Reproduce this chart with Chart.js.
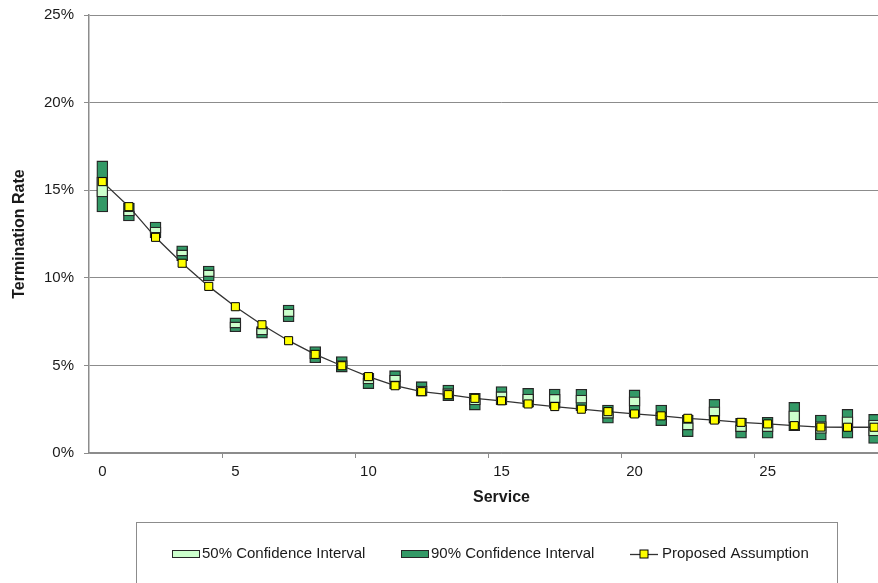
<!DOCTYPE html>
<html>
<head>
<meta charset="utf-8">
<script src="https://cdn.jsdelivr.net/npm/chart.js@4.4.1/dist/chart.umd.min.js"></script>
<style>
  html, body { margin: 0; padding: 0; background: #fff; overflow: hidden; }
  #wrap { width: 878px; height: 583px; overflow: hidden; }
</style>
</head>
<body>
<div id="wrap"><canvas id="chart" width="927" height="583"></canvas></div>
<script>
// service years; the axis runs on to 30, which is cut off on the right
const services = ["0","1","2","3","4","5","6","7","8","9","10","11","12","13","14",
  "15","16","17","18","19","20","21","22","23","24","25","26","27","28","29","30"];

// 90% confidence interval (percent)
const ci90Low  = [13.76, 13.24, 12.27, 10.98, 9.82, 6.92, 6.55, 7.49, 5.15, 4.62,
  3.67, 3.67, 3.25, 2.99, 2.45, 2.74, 2.61, 2.55, 2.41, 1.70,
  2.04, 1.56, 0.93, 1.70, 0.84, 0.84, 1.27, 0.74, 0.84, 0.55];
const ci90High = [16.67, 14.27, 13.18, 11.83, 10.67, 7.71, 7.21, 8.45, 6.07, 5.50,
  4.55, 4.70, 4.07, 3.88, 3.41, 3.79, 3.69, 3.65, 3.64, 2.74,
  3.60, 2.74, 2.17, 3.06, 1.98, 2.04, 2.89, 2.17, 2.49, 2.21];

// 50% confidence interval (percent)
const ci50Low  = [14.61, 13.53, 12.56, 11.24, 10.06, 7.13, 6.74, 7.78, 5.37, 4.89,
  3.94, 4.07, 3.44, 3.25, 2.74, 3.03, 2.93, 2.87, 2.84, 1.98,
  2.68, 1.92, 1.31, 2.11, 1.22, 1.22, 1.73, 1.12, 1.41, 0.97];
const ci50High = [15.75, 13.81, 12.90, 11.59, 10.45, 7.48, 7.13, 8.22, 5.88, 5.27,
  4.28, 4.45, 3.82, 3.67, 3.14, 3.50, 3.37, 3.35, 3.31, 2.36,
  3.21, 2.30, 1.73, 2.64, 1.60, 1.66, 2.41, 1.79, 2.07, 1.88];

// proposed assumption (percent)
const assumption = [15.49, 14.06, 12.31, 10.83, 9.51, 8.35, 7.32, 6.41, 5.63, 4.98,
  4.36, 3.84, 3.50, 3.33, 3.12, 2.98, 2.80, 2.65, 2.50, 2.36,
  2.23, 2.12, 1.98, 1.88, 1.75, 1.66, 1.56, 1.48, 1.47, 1.47];

const yTicks = [0, 5, 10, 15, 20, 25];

const legendItems = ["50% Confidence Interval", "90% Confidence Interval", "Proposed Assumption"];

const DARK = "#339966";
const LIGHT = "#CCFFCC";
const EDGE = "#262626";
const GRID = "#8c8c8c";
const FONT = "'Liberation Sans', Arial, sans-serif";

// legend box drawn under the chart
const boxLegend = {
  id: "boxLegend",
  afterDraw(chart) {
    const ctx = chart.ctx;
    ctx.save();
    ctx.strokeStyle = GRID;
    ctx.lineWidth = 1;
    ctx.strokeRect(136.5, 522.5, 701, 120);

    const y = 554;
    ctx.font = "15px " + FONT;
    ctx.textBaseline = "middle";
    ctx.textAlign = "left";

    // 50% swatch
    ctx.fillStyle = LIGHT;
    ctx.fillRect(172.5, 550.5, 27, 7);
    ctx.strokeStyle = EDGE;
    ctx.strokeRect(172.5, 550.5, 27, 7);
    ctx.fillStyle = "#1a1a1a";
    ctx.fillText(legendItems[0], 202, y);

    // 90% swatch
    ctx.fillStyle = DARK;
    ctx.fillRect(401.5, 550.5, 27, 7);
    ctx.strokeRect(401.5, 550.5, 27, 7);
    ctx.fillStyle = "#1a1a1a";
    ctx.fillText(legendItems[1], 431, y);

    // line + marker
    ctx.strokeStyle = "#333";
    ctx.lineWidth = 1.3;
    ctx.beginPath();
    ctx.moveTo(630, y + 0.5);
    ctx.lineTo(658, y + 0.5);
    ctx.stroke();
    ctx.fillStyle = "#FFFF00";
    ctx.fillRect(640, 550, 8, 8);
    ctx.strokeStyle = "#000";
    ctx.lineWidth = 1;
    ctx.strokeRect(640, 550, 8, 8);
    ctx.fillStyle = "#1a1a1a";
    ctx.fillText(legendItems[2], 662, y);
    ctx.restore();
  }
};

const ctx = document.getElementById("chart").getContext("2d");

new Chart(ctx, {
  data: {
    labels: services,
    datasets: [
      {
        type: "line",
        label: legendItems[2],
        data: assumption,
        borderColor: "#333",
        borderWidth: 1.3,
        pointStyle: "rect",
        pointRadius: 5.7,
        pointBackgroundColor: "#FFFF00",
        pointBorderColor: "#000",
        pointBorderWidth: 1,
        tension: 0,
        order: 0
      },
      {
        type: "bar",
        label: legendItems[0],
        data: ci50Low.map((v, i) => [v, ci50High[i]]),
        backgroundColor: LIGHT,
        borderColor: EDGE,
        borderWidth: 1.3,
        borderSkipped: false,
        barThickness: 11,
        grouped: false,
        order: 1
      },
      {
        type: "bar",
        label: legendItems[1],
        data: ci90Low.map((v, i) => [v, ci90High[i]]),
        backgroundColor: DARK,
        borderColor: EDGE,
        borderWidth: 1.3,
        borderSkipped: false,
        barThickness: 11,
        grouped: false,
        order: 2
      }
    ]
  },
  options: {
    responsive: false,
    animation: false,
    devicePixelRatio: 1,
    layout: { padding: { left: 0, right: 13, top: 15, bottom: 70 } },
    plugins: {
      legend: { display: false },
      tooltip: { enabled: false }
    },
    scales: {
      x: {
        type: "category",
        offset: true,
        border: { display: true, color: GRID, width: 1.5 },
        grid: {
          offset: true,
          drawOnChartArea: false,
          drawTicks: true,
          tickLength: 5,
          color: (c) => (c.index > 0 && c.index < services.length && c.index % 5 === 0) ? GRID : "rgba(0,0,0,0)"
        },
        ticks: {
          autoSkip: false,
          maxRotation: 0,
          padding: 5,
          color: "#1a1a1a",
          font: { family: FONT, size: 15 },
          callback: function (val, i) { return i % 5 === 0 ? this.getLabelForValue(val) : ""; }
        },
        title: {
          display: true,
          text: "Service",
          color: "#1a1a1a",
          font: { family: FONT, size: 16, weight: "bold" },
          padding: { top: 0, bottom: 6 }
        },
        afterFit: (s) => { s.height = 60; }
      },
      y: {
        min: 0,
        max: 25,
        border: { display: true, color: GRID, width: 1.5 },
        grid: { color: GRID, lineWidth: 1, tickLength: 5 },
        afterBuildTicks: (s) => { s.ticks = yTicks.map((v) => ({ value: v })); },
        ticks: {
          padding: 10,
          color: "#1a1a1a",
          font: { family: FONT, size: 15 },
          callback: (v) => v + "%"
        },
        title: {
          display: true,
          text: "Termination Rate",
          color: "#1a1a1a",
          font: { family: FONT, size: 16, weight: "bold" },
          padding: 10
        },
        afterFit: (s) => { s.width = 89; s.paddingTop = 0; s.paddingBottom = 0; }
      }
    }
  },
  plugins: [boxLegend]
});
</script>
</body>
</html>
